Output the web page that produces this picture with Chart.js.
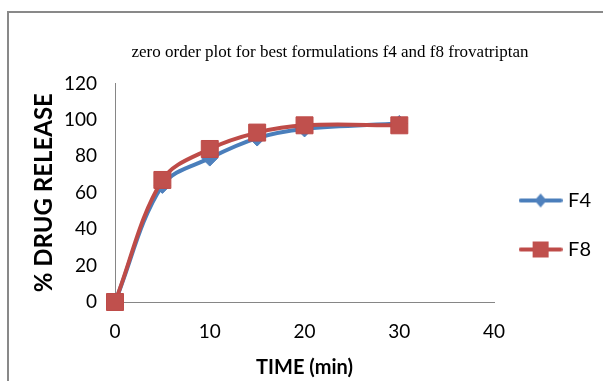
<!DOCTYPE html>
<html>
<head>
<meta charset="utf-8">
<script src="https://cdn.jsdelivr.net/npm/chart.js@4"></script>
<style>
  html, body { margin: 0; padding: 0; background: #ffffff; overflow: hidden; }
  #marco { position: absolute; left: 7px; top: 11px; width: 650px; height: 420px; border: 2px solid #898989; }
  #grafico { position: absolute; left: 0; top: 0; }
</style>
</head>
<body>
<div id="marco"></div>
<canvas id="grafico" width="603" height="381"></canvas>
<script>
// Datos (tiempo en minutos, % liberado)
const tiempos = [0, 5, 10, 15, 20, 30];
const liberacionF4 = [0, 64, 79, 90, 95, 98];
const liberacionF8 = [0, 67, 84, 93, 97, 97];
const series = ['F4', 'F8'];
const ticksX = [0, 10, 20, 30, 40];
const ticksY = [0, 20, 40, 60, 80, 100, 120];

const AZUL = '#4A7EBB';
const ROJO = '#BE4B48';

function puntos(valores) {
  return tiempos.map((t, i) => ({ x: t, y: valores[i] }));
}

// Muestra de leyenda: linea con el marcador en el centro
function muestraLeyenda(color, relleno, forma) {
  const c = document.createElement('canvas');
  c.width = 44; c.height = 20;
  const ctx = c.getContext('2d');
  ctx.strokeStyle = color;
  ctx.lineWidth = 4;
  ctx.lineCap = 'round';
  ctx.beginPath(); ctx.moveTo(2, 10); ctx.lineTo(42, 10); ctx.stroke();
  ctx.fillStyle = relleno;
  ctx.beginPath();
  if (forma === 'rombo') {
    ctx.moveTo(22, 3); ctx.lineTo(28, 10); ctx.lineTo(22, 17); ctx.lineTo(16, 10);
  } else {
    ctx.rect(14, 2, 16, 16);
  }
  ctx.closePath(); ctx.fill();
  return c;
}

const muestras = [muestraLeyenda(AZUL, '#4F81BD', 'rombo'), muestraLeyenda(ROJO, '#C0504D', 'cuadro')];

const fuenteEjes = 'Lato, "Open Sans", sans-serif';

new Chart(document.getElementById('grafico'), {
  type: 'line',
  data: {
    datasets: [
      {
        label: series[0],
        data: puntos(liberacionF4),
        borderColor: AZUL,
        backgroundColor: '#4F81BD',
        borderWidth: 4,
        pointStyle: 'rectRot',
        pointRadius: 8,
        pointBorderWidth: 1,
        tension: 0.35,
        clip: false,
        order: 1,
      },
      {
        label: series[1],
        data: puntos(liberacionF8),
        borderColor: ROJO,
        backgroundColor: '#C0504D',
        borderWidth: 4,
        pointStyle: 'rect',
        pointRadius: 12,
        pointBorderWidth: 1,
        tension: 0.35,
        clip: false,
        order: 0,
      },
    ],
  },
  options: {
    responsive: false,
    animation: false,
    events: [],
    layout: { padding: { left: 59, right: 2, top: 0, bottom: 0 } },
    plugins: {
      tooltip: { enabled: false },
      title: {
        display: true,
        text: 'zero order plot for best formulations f4 and f8 frovatriptan',
        color: '#000000',
        font: { family: '"Liberation Serif", "DejaVu Serif", serif', size: 17, weight: 'normal' },
        padding: { top: 42, bottom: 21 },
      },
      legend: {
        position: 'right',
        title: { display: true, text: ' ', font: { size: 10, lineHeight: 1 }, padding: { top: 59, bottom: 0 } },
        labels: {
          usePointStyle: true,
          pointStyleWidth: 35,
          padding: 29,
          color: '#000000',
          font: { family: fuenteEjes, size: 20 },
          generateLabels: () => series.map((nombre, i) => ({
            text: nombre,
            pointStyle: muestras[i],
            datasetIndex: i,
            fontColor: '#000000',
            lineWidth: 0,
          })),
        },
      },
    },
    scales: {
      x: {
        type: 'linear',
        min: 0,
        max: 40,
        afterBuildTicks: (s) => { s.ticks = ticksX.map((v) => ({ value: v })); },
        afterFit: (s) => { s.height = 79; },
        grid: { display: false, drawTicks: false },
        border: { display: true, color: '#868686', width: 1 },
        ticks: { color: '#000000', padding: 18, font: { family: fuenteEjes, size: 19 } },
        title: {
          display: true,
          text: 'TIME (min)',
          color: '#000000',
          font: { family: fuenteEjes, size: 20, weight: 'bold' },
          padding: { top: 0, bottom: 1 },
        },
      },
      y: {
        min: 0,
        max: 120,
        afterBuildTicks: (s) => { s.ticks = ticksY.map((v) => ({ value: v })); },
        afterFit: (s) => { s.width = 56; },
        grid: { display: false, drawTicks: false },
        border: { display: true, color: '#868686', width: 1 },
        ticks: { color: '#000000', padding: 18, font: { family: fuenteEjes, size: 19 } },
        title: {
          display: true,
          text: '% DRUG RELEASE',
          color: '#000000',
          font: { family: fuenteEjes, size: 24, weight: 'bold' },
          padding: { top: -29, bottom: 0 },
        },
      },
    },
  },
});
</script>
</body>
</html>
